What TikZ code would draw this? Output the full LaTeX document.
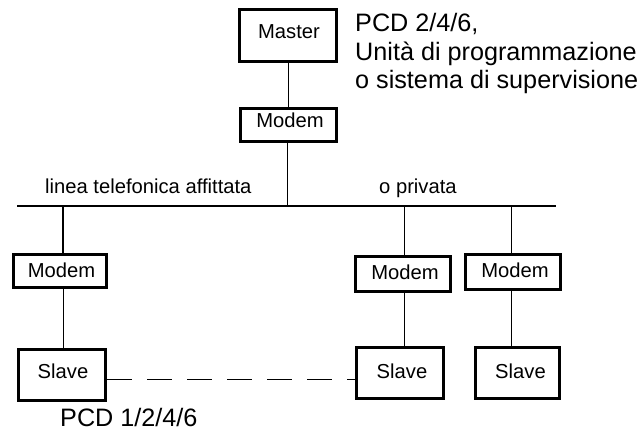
\documentclass[tikz,border=0pt]{standalone}
\usepackage{fontspec}
\setmainfont{Liberation Sans}
\begin{document}
\begin{tikzpicture}[x=1bp,y=-1bp,
  box/.style={draw, line width=2.6bp, rectangle, inner sep=0pt},
  wire/.style={line width=1bp},
  lbl/.style={inner sep=0pt, font=\fontsize{20.2bp}{24bp}\selectfont},
  big/.style={inner sep=0pt, align=left, font=\fontsize{25.2bp}{28.5bp}\selectfont}]
\useasboundingbox (0,0) rectangle (639,430);

% boxes
\node[box, minimum width=97.4bp, minimum height=52.4bp] (master) at (288,35.5) {};
\node[box, minimum width=96.4bp, minimum height=33.4bp] (mtop) at (288.5,125) {};
\node[box, minimum width=93.4bp, minimum height=33.4bp] (mL) at (60,271) {};
\node[box, minimum width=95.4bp, minimum height=35.4bp] (mM) at (403,274) {};
\node[box, minimum width=95.4bp, minimum height=35.4bp] (mR) at (513,272) {};
\node[box, minimum width=87.4bp, minimum height=51.4bp] (sL) at (62,375) {};
\node[box, minimum width=87.4bp, minimum height=51.4bp] (sM) at (400,373) {};
\node[box, minimum width=84.4bp, minimum height=51.4bp] (sR) at (517.5,373) {};

% box labels
\node[lbl, anchor=base] (tMaster) at (289,38) {Master};
\node[lbl, anchor=base] (tModemTop) at (290,127) {Modem};
\node[lbl, anchor=base] (tModemL) at (61.5,277) {Modem};
\node[lbl, anchor=base] (tModemM) at (405,279) {Modem};
\node[lbl, anchor=base] (tModemR) at (515,277) {Modem};
\node[lbl, anchor=base] (tSlaveL) at (63,378) {Slave};
\node[lbl, anchor=base] (tSlaveM) at (402,378) {Slave};
\node[lbl, anchor=base] (tSlaveR) at (520.5,378) {Slave};

% line and its taps
\coordinate (busW) at (17,206);
\coordinate (busE) at (556,206);
\coordinate (tapC) at (287,206);
\coordinate (tapL) at (63,206);
\coordinate (tapM) at (404,206);
\coordinate (tapR) at (511,206);

\draw[wire] (master.south) -- (master.south |- mtop.north);
\draw[wire] (tapC |- mtop.south) -- (tapC);
\draw[line width=1.3bp] (busW) -- (busE);
\draw[line width=2bp] (tapL) -- (tapL |- mL.north);
\draw[wire] (tapL |- mL.south) -- (tapL |- sL.north);
\draw[wire] (tapM) -- (tapM |- mM.north);
\draw[wire] (tapM |- mM.south) -- (tapM |- sM.north);
\draw[wire] (tapR) -- (tapR |- mR.north);
\draw[wire] (tapR |- mR.south) -- (tapR |- sR.north);
\draw[wire, dash pattern=on 25bp off 15bp]
  ([yshift=-4bp]sL.east) -- ([yshift=-4bp]sL.east -| sM.west);

% free texts
\node[lbl, anchor=base west] (linea) at (45,193) {linea telefonica affittata};
\node[lbl, anchor=base west] (priv) at (379,193) {o privata};
\node[big, anchor=north west] (pcdM) at (355,13.5)
  {PCD 2/4/6,\\Unità di programmazione\\o sistema di supervisione};
\node[big, anchor=base west] (pcdS) at (60,426) {PCD 1/2/4/6};
\end{tikzpicture}
\end{document}
